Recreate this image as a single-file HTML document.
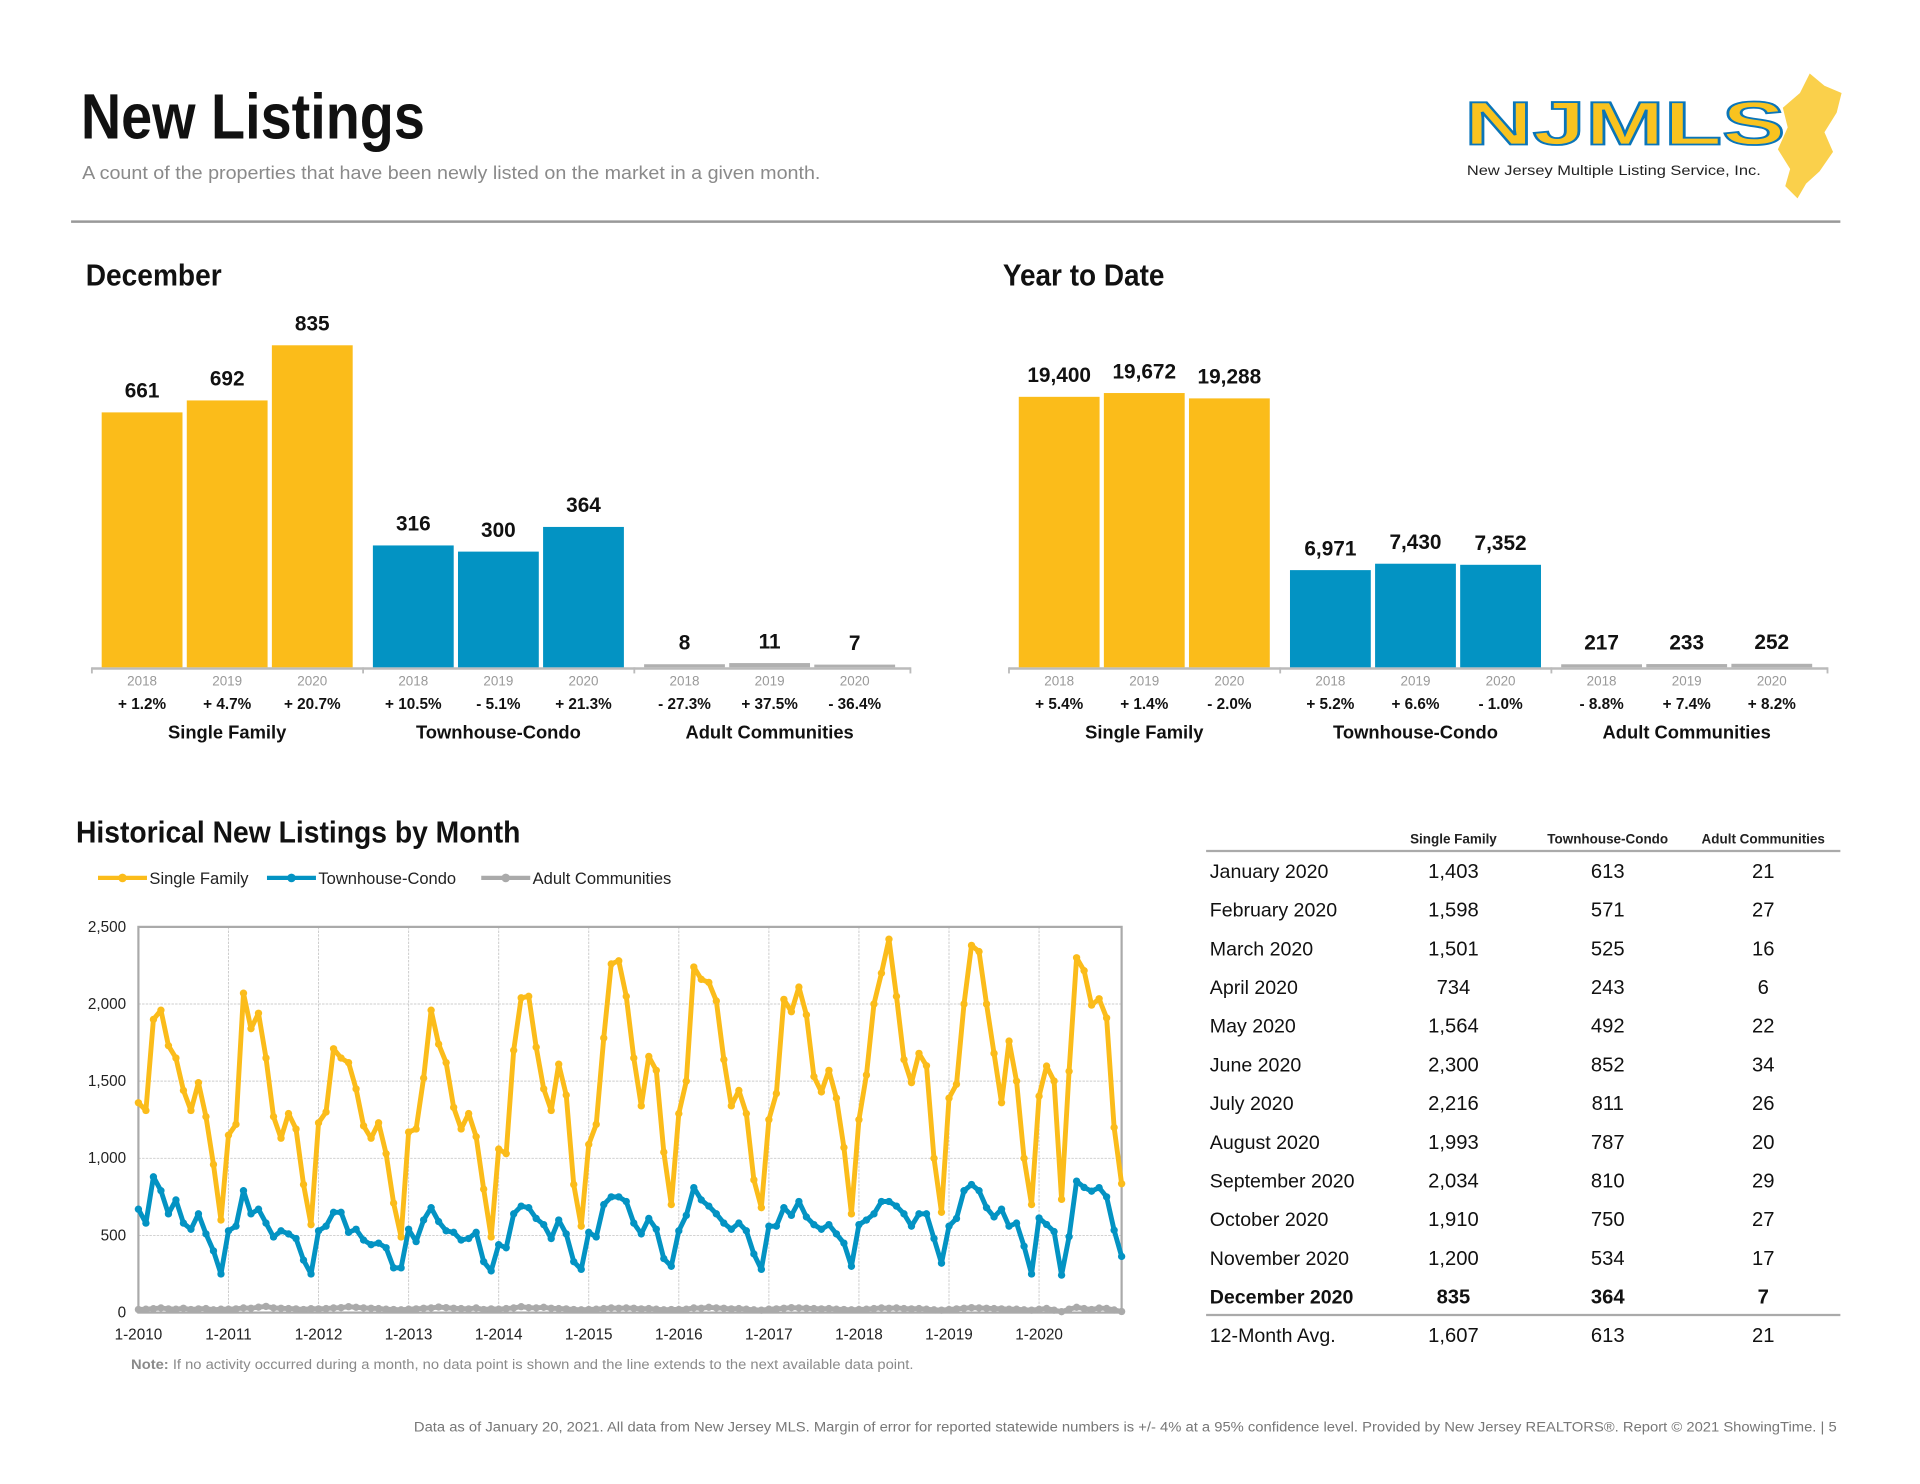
<!DOCTYPE html>
<html><head><meta charset="utf-8"><style>
html,body{margin:0;padding:0;background:#fff}
svg{display:block}
text{font-family:"Liberation Sans",Arial,sans-serif}
.cond{font-family:"Liberation Sans Narrow","Liberation Sans",sans-serif;font-weight:bold}
</style></head><body>
<svg id="page" width="1920" height="1484" viewBox="0 0 1568 1212" xmlns="http://www.w3.org/2000/svg">
<text class="cond" x="66" y="113" font-size="52" fill="#111" textLength="281" lengthAdjust="spacingAndGlyphs">New Listings</text>
<text x="67" y="146" font-size="15" fill="#8a8a8a" textLength="603" lengthAdjust="spacingAndGlyphs">A count of the properties that have been newly listed on the market in a given month.</text>
<g>
<path d="M1478 60 L1490 70 L1504 76 L1500 92 L1490 108 L1497 124 L1486 140 L1475 150 L1468 162 L1458 152 L1462 138 L1452 122 L1460 104 L1456 88 L1470 76 Z" fill="#fad04b"/>
<text x="1196" y="118" font-size="50" font-weight="bold" fill="#f9c31f" stroke="#0a75b9" stroke-width="1.5" textLength="262" lengthAdjust="spacingAndGlyphs">NJMLS</text>
<text x="1198" y="143" font-size="11.5" fill="#222" textLength="240" lengthAdjust="spacingAndGlyphs">New Jersey Multiple Listing Service, Inc.</text>
</g>
<line x1="58" y1="181" x2="1503" y2="181" stroke="#999" stroke-width="2"/>
<text class="cond" x="70" y="233" font-size="25" fill="#111" textLength="111" lengthAdjust="spacingAndGlyphs">December</text>
<text class="cond" x="819" y="233" font-size="25" fill="#111" textLength="132" lengthAdjust="spacingAndGlyphs">Year to Date</text>
<g id="dec"></g>
<g id="ytd"></g>
<text class="cond" x="62" y="688" font-size="25" fill="#111" textLength="363" lengthAdjust="spacingAndGlyphs">Historical New Listings by Month</text>
<g id="legend"></g>
<g id="line"></g>
<text x="107" y="1118" font-size="11.5" fill="#8a8a8a" textLength="639" lengthAdjust="spacingAndGlyphs"><tspan font-weight="bold">Note:</tspan> If no activity occurred during a month, no data point is shown and the line extends to the next available data point.</text>
<g id="table"></g>
<text x="338" y="1169" font-size="11.5" fill="#777" textLength="1162" lengthAdjust="spacingAndGlyphs">Data as of January 20, 2021. All data from New Jersey MLS. Margin of error for reported statewide numbers is +/- 4% at a 95% confidence level. Provided by New Jersey REALTORS®. Report © 2021 ShowingTime.  |  5</text>
</svg>
<script>
const NS="http://www.w3.org/2000/svg";
const groupNames=["Single Family","Townhouse-Condo","Adult Communities"];
const years=["2018","2019","2020"];
const decValues=[[661,692,835],[316,300,364],[8,11,7]];
const decPct=[["+ 1.2%","+ 4.7%","+ 20.7%"],["+ 10.5%","- 5.1%","+ 21.3%"],["- 27.3%","+ 37.5%","- 36.4%"]];
const ytdValues=[[19400,19672,19288],[6971,7430,7352],[217,233,252]];
const ytdPct=[["+ 5.4%","+ 1.4%","- 2.0%"],["+ 5.2%","+ 6.6%","- 1.0%"],["- 8.8%","+ 7.4%","+ 8.2%"]];
const colors=["#fbbc1a","#0393c3","#b0b0b0"];
function el(parent,tag,attrs,txt){const e=document.createElementNS(NS,tag);for(const k in attrs)e.setAttribute(k,attrs[k]);if(txt!==undefined)e.textContent=txt;parent.appendChild(e);return e;}
function barChart(gid,x0,values,pcts,maxH,fmt){
  const g=document.getElementById(gid);
  const base=545;let mx=0;values.forEach(a=>a.forEach(v=>mx=Math.max(mx,v)));
  const bw=66,gap=3.5,gw=221.5;
  el(g,'line',{x1:x0-8,y1:base+1,x2:x0+3*gw-4,y2:base+1,stroke:'#bbb','stroke-width':2});
  for(let gi=0;gi<3;gi++){
    const gx=x0+gi*gw;
    el(g,'line',{x1:gx-8,y1:base,x2:gx-8,y2:base+5,stroke:'#bbb','stroke-width':1.5});
    for(let i=0;i<3;i++){
      const v=values[gi][i];const h=v/mx*maxH;const bx=gx+i*(bw+gap);
      const r=el(g,'rect',{x:bx,y:base-h,width:bw,height:Math.max(h,1.5),fill:colors[gi]});
      
      
      el(g,'text',{x:bx+bw/2,y:base-h-12,'text-anchor':'middle','font-size':17,'font-weight':'bold',fill:'#111'},fmt(v));
      el(g,'text',{x:bx+bw/2,y:base+15,'text-anchor':'middle','font-size':11,fill:'#999'},years[i]);
      el(g,'text',{x:bx+bw/2,y:base+34,'text-anchor':'middle','font-size':12.5,'font-weight':'bold',fill:'#111'},pcts[gi][i]);
    }
    el(g,'text',{x:gx+bw*1.5+gap,y:base+58,'text-anchor':'middle','font-size':15,'font-weight':'bold',fill:'#111'},groupNames[gi]);
  }
  el(g,'line',{x1:x0+3*gw-4,y1:base,x2:x0+3*gw-4,y2:base+5,stroke:'#bbb','stroke-width':1.5});
}
barChart('dec',83,decValues,decPct,263,v=>String(v));
barChart('ytd',832,ytdValues,ytdPct,224,v=>v.toLocaleString('en-US'));

const sf2010=[1360,1310,1900,1960,1730,1650,1440,1310,1490,1270,960,600];
const sf2011=[1150,1220,2070,1840,1940,1650,1270,1130,1290,1190,830,570];
const sf2012=[1230,1300,1710,1650,1620,1450,1210,1130,1230,1030,710,490];
const sf2013=[1170,1190,1520,1960,1740,1620,1330,1190,1290,1140,800,490];
const sf2014=[1060,1030,1700,2040,2050,1720,1450,1310,1610,1410,830,560];
const sf2015=[1090,1220,1780,2260,2280,2050,1650,1340,1660,1570,1040,700];
const sf2016=[1290,1500,2240,2160,2140,2020,1640,1340,1440,1290,860,680];
const sf2017=[1250,1420,2030,1950,2110,1930,1530,1430,1570,1390,1070,640];
const sf2018=[1250,1540,2000,2200,2420,2050,1640,1490,1680,1600,1000,650];
const sf2019=[1390,1480,2000,2380,2340,2000,1680,1360,1760,1500,1000,700];
const sf2020=[1403,1598,1501,734,1564,2300,2216,1993,2034,1910,1200,835];
const tc2010=[670,580,880,790,640,730,580,540,640,510,400,250];
const tc2011=[530,560,790,640,670,580,490,530,510,480,340,250];
const tc2012=[530,560,650,650,520,540,470,440,450,420,290,290];
const tc2013=[540,460,600,680,590,530,520,470,480,520,330,270];
const tc2014=[440,420,640,690,680,610,570,480,600,510,330,280];
const tc2015=[520,490,700,750,750,720,580,510,610,540,350,300];
const tc2016=[530,630,810,730,690,640,580,540,580,530,380,280];
const tc2017=[560,560,680,630,720,620,570,540,570,510,450,300];
const tc2018=[570,600,640,720,720,690,640,560,640,640,480,320];
const tc2019=[560,610,790,830,790,680,620,670,560,580,430,250];
const tc2020=[613,571,525,243,492,852,811,787,810,750,534,364];
const ac2010=[20,22,25,30,24,22,28,20,24,26,18,22];
const ac2011=[22,24,30,28,35,40,30,28,26,24,20,25];
const ac2012=[24,26,30,32,38,34,30,28,26,22,20,18];
const ac2013=[22,24,28,30,36,32,28,26,24,30,20,24];
const ac2014=[22,26,30,38,32,30,34,28,26,24,20,18];
const ac2015=[20,22,26,30,28,30,28,24,26,22,18,20];
const ac2016=[20,22,30,28,34,30,28,24,26,22,18,16];
const ac2017=[22,24,28,32,30,28,26,24,26,22,20,18];
const ac2018=[20,22,26,30,28,30,26,24,26,22,18,16];
const ac2019=[20,24,28,32,30,28,26,24,22,22,18,16];
const ac2020=[21,27,16,6,22,34,26,20,29,27,17,7];
const sfSeries=[].concat(sf2010,sf2011,sf2012,sf2013,sf2014,sf2015,sf2016,sf2017,sf2018,sf2019,sf2020);
const tcSeries=[].concat(tc2010,tc2011,tc2012,tc2013,tc2014,tc2015,tc2016,tc2017,tc2018,tc2019,tc2020);
const acSeries=[].concat(ac2010,ac2011,ac2012,ac2013,ac2014,ac2015,ac2016,ac2017,ac2018,ac2019,ac2020);
const yTicks=[0,500,1000,1500,2000,2500];
const xTickLabels=["1-2010","1-2011","1-2012","1-2013","1-2014","1-2015","1-2016","1-2017","1-2018","1-2019","1-2020"];
const seriesNames=["Single Family","Townhouse-Condo","Adult Communities"];
(function(){
  const g=document.getElementById('line');
  const L=113,R=916,T=757,B=1072,n=sfSeries.length;
  const xs=i=>L+i*(R-L)/(n-1);
  const ys=v=>B-v/2500*(B-T);
  yTicks.forEach(t=>{
    if(t>0&&t<2500)el(g,'line',{x1:L,y1:ys(t),x2:R,y2:ys(t),stroke:'#ccc','stroke-width':0.8,'stroke-dasharray':'2,1'});
    el(g,'text',{x:L-10,y:ys(t)+4,'text-anchor':'end','font-size':12.5,fill:'#222'},t.toLocaleString('en-US'));
  });
  xTickLabels.forEach((lab,k)=>{
    const x=xs(k*12);
    if(k>0)el(g,'line',{x1:x,y1:T,x2:x,y2:B,stroke:'#ccc','stroke-width':0.8,'stroke-dasharray':'2,1'});
    el(g,'text',{x:x,y:B+22,'text-anchor':'middle','font-size':12.5,fill:'#222'},lab);
  });
  el(g,'rect',{x:L,y:T,width:R-L,height:B-T,fill:'none',stroke:'#aaa','stroke-width':1.8});
  [[sfSeries,colors[0],'sf'],[tcSeries,colors[1],'tc'],[acSeries,'#aaa','ac']].forEach(([s,c,id])=>{
    const p=el(g,'polyline',{points:s.map((v,i)=>xs(i)+','+ys(v)).join(' '),fill:'none',stroke:c,'stroke-width':4,'stroke-linejoin':'round'});
    
    
    s.forEach((v,i)=>el(g,'circle',{cx:xs(i),cy:ys(v),r:3,fill:c}));
  });
  const lg=document.getElementById('legend');
  const lx=[80,218,393];
  seriesNames.forEach((nm,i)=>{
    const c=i==2?'#aaa':colors[i];
    const e=el(lg,'g',{});
    
    
    el(e,'line',{x1:lx[i],y1:717,x2:lx[i]+40,y2:717,stroke:c,'stroke-width':3.5});
    el(e,'circle',{cx:lx[i]+20,cy:717,r:3.5,fill:c});
    el(e,'text',{x:lx[i]+42,y:722,'font-size':13.5,fill:'#222'},nm);
  });
})();
const tableMonths=["January 2020","February 2020","March 2020","April 2020","May 2020","June 2020","July 2020","August 2020","September 2020","October 2020","November 2020","December 2020","12-Month Avg."];
const tableSF=["1,403","1,598","1,501","734","1,564","2,300","2,216","1,993","2,034","1,910","1,200","835","1,607"];
const tableTC=["613","571","525","243","492","852","811","787","810","750","534","364","613"];
const tableAC=["21","27","16","6","22","34","26","20","29","27","17","7","21"];
(function(){
  const g=document.getElementById('table');
  const cx=[1187,1313,1440];
  ["Single Family","Townhouse-Condo","Adult Communities"].forEach((h,i)=>el(g,'text',{x:cx[i],y:689,'text-anchor':'middle','font-size':11,'font-weight':'bold',fill:'#222'},h));
  el(g,'line',{x1:985,y1:695,x2:1503,y2:695,stroke:'#aaa','stroke-width':1.8});
  el(g,'line',{x1:985,y1:1074,x2:1503,y2:1074,stroke:'#aaa','stroke-width':1.8});
  tableMonths.forEach((m,r)=>{
    const y=r<12?717+r*31.6:1096;
    const bold=r==11?'bold':'normal';
    el(g,'text',{x:988,y:y,'font-size':16,'font-weight':bold,fill:'#111'},m);
    [tableSF,tableTC,tableAC].forEach((col,i)=>el(g,'text',{x:cx[i],y:y,'text-anchor':'middle','font-size':16.5,'font-weight':bold,fill:'#111'},col[r]));
  });
})();
</script>
</body></html>
